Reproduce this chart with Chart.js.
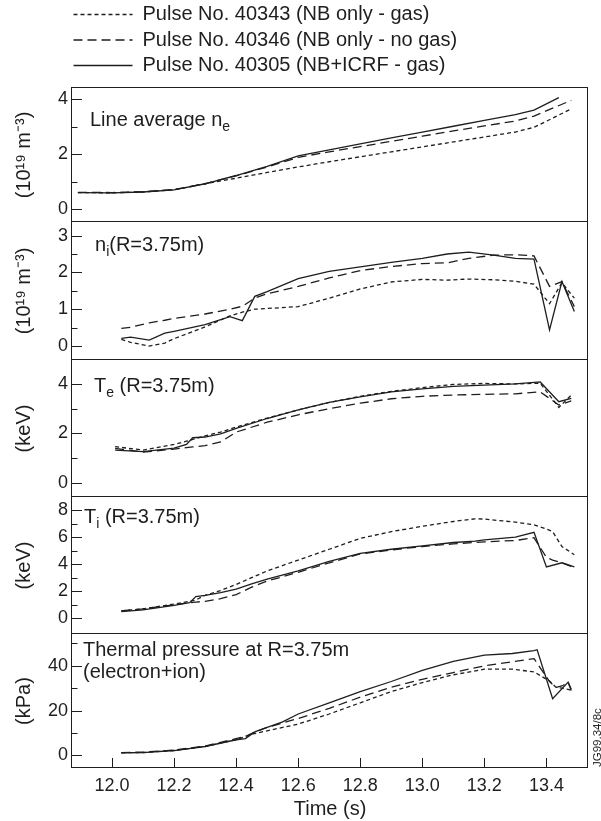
<!DOCTYPE html>
<html>
<head>
<meta charset="utf-8">
<script src="https://cdn.jsdelivr.net/npm/chart.js@4.4.1/dist/chart.umd.min.js"></script>
<style>
html,body{margin:0;padding:0;background:#fff;}
body{width:601px;height:821px;position:relative;overflow:hidden;font-family:"Liberation Sans",Arial,Helvetica,sans-serif;color:#1e1e1e;}
.box{position:absolute;left:0;width:601px;}
.box canvas{display:block;}
.lbl{position:absolute;font-size:20px;line-height:22px;white-space:nowrap;color:#1e1e1e;z-index:5;}
.lbl sub{font-size:14px;vertical-align:-5px;line-height:0;}
#jg{position:absolute;left:591px;top:767px;font-size:11.5px;line-height:13px;white-space:nowrap;transform:rotate(-90deg);transform-origin:left top;color:#1e1e1e;z-index:5;}
</style>
</head>
<body>
<div class="box" style="top:-1px;left:67.5px;width:533px;height:180px;z-index:0"><canvas id="cLegend" width="533" height="180"></canvas></div>
<div class="box" style="top:72px;height:166px;z-index:1"><canvas id="c1" width="601" height="166"></canvas></div>
<div class="box" style="top:206px;height:170px;z-index:1"><canvas id="c2" width="601" height="170"></canvas></div>
<div class="box" style="top:344px;height:169px;z-index:1"><canvas id="c3" width="601" height="169"></canvas></div>
<div class="box" style="top:481px;height:169px;z-index:1"><canvas id="c4" width="601" height="169"></canvas></div>
<div class="box" style="top:618px;height:203px;z-index:2"><canvas id="c5" width="601" height="203"></canvas></div>

<div class="lbl" style="left:90px;top:108px">Line average n<sub>e</sub></div>
<div class="lbl" style="left:95px;top:233px">n<sub>i</sub>(R=3.75m)</div>
<div class="lbl" style="left:94px;top:374px">T<sub>e</sub> (R=3.75m)</div>
<div class="lbl" style="left:84px;top:505px">T<sub>i</sub> (R=3.75m)</div>
<div class="lbl" style="left:83px;top:638px">Thermal pressure at R=3.75m<br>(electron+ion)</div>
<div id="jg">JG99.34/8c</div>

<script>
// ---------- data ----------
const seriesLabels = ['Pulse No. 40343 (NB only - gas)', 'Pulse No. 40346 (NB only - no gas)', 'Pulse No. 40305 (NB+ICRF - gas)'];
const xTickStep = 0.2;

// Line average n_e (10^19 m^-3)
const neTime  = [11.89, 12.0, 12.1, 12.2, 12.3, 12.4, 12.5, 12.6, 12.7, 12.8, 12.9, 13.0, 13.1, 13.2, 13.3, 13.36, 13.44, 13.48];
const ne40343 = [0.60, 0.59, 0.62, 0.70, 0.92, 1.12, 1.33, 1.53, 1.72, 1.90, 2.08, 2.26, 2.44, 2.62, 2.80, 2.97, null, 3.64];
const ne40346 = [0.61, 0.60, 0.63, 0.71, 0.92, 1.21, 1.53, 1.88, 2.08, 2.27, 2.46, 2.65, 2.84, 3.02, 3.20, 3.38, null, 3.95];
const ne40305 = [0.60, 0.59, 0.62, 0.70, 0.92, 1.22, 1.55, 1.93, 2.15, 2.37, 2.59, 2.80, 3.01, 3.22, 3.43, 3.60, 4.05, null];

// n_i at R=3.75m (10^19 m^-3)
const niTime  = [12.03, 12.06, 12.12, 12.17, 12.2, 12.3, 12.38, 12.42, 12.46, 12.5, 12.6, 12.7, 12.8, 12.9, 13.0, 13.08, 13.15, 13.23, 13.3, 13.36, 13.41, 13.45, 13.49];
const ni40343 = [0.18, 0.10, 0.00, 0.08, 0.20, 0.52, 0.82, 0.92, 1.00, 1.02, 1.07, 1.30, 1.55, 1.74, 1.81, 1.79, 1.82, 1.80, 1.76, 1.68, 1.15, 1.72, 1.30];
const ni40346 = [0.48, 0.51, 0.63, 0.70, 0.75, 0.87, 1.00, 1.08, 1.30, 1.42, 1.62, 1.85, 2.05, 2.16, 2.24, 2.26, 2.38, 2.47, 2.48, 2.45, 1.62, 1.75, 1.07];
const ni40305 = [0.21, 0.24, 0.16, 0.35, 0.40, 0.58, 0.80, 0.69, 1.35, 1.48, 1.83, 2.03, 2.15, 2.27, 2.38, 2.50, 2.55, 2.47, 2.38, 2.36, 0.44, 1.75, 0.94];

// T_e at R=3.75m (keV)
const teTime  = [12.01, 12.1, 12.2, 12.24, 12.26, 12.3, 12.35, 12.4, 12.5, 12.6, 12.7, 12.8, 12.9, 13.0, 13.1, 13.2, 13.3, 13.38, 13.44, 13.48];
const te40343 = [1.46, 1.32, 1.55, 1.68, 1.75, 1.90, 2.05, 2.25, 2.62, 2.95, 3.25, 3.50, 3.70, 3.85, 3.98, 4.02, 4.00, 4.03, 3.05, 3.55];
const te40346 = [1.39, 1.24, 1.36, 1.42, 1.45, 1.50, 1.65, 2.05, 2.45, 2.75, 3.00, 3.22, 3.40, 3.50, 3.55, 3.58, 3.60, 3.68, 3.15, 3.31];
const te40305 = [1.32, 1.26, 1.40, 1.55, 1.82, 1.85, 1.98, 2.20, 2.60, 2.95, 3.25, 3.48, 3.68, 3.80, 3.90, 3.95, 4.00, 4.08, 3.28, 3.42];

// T_i at R=3.75m (keV)
const tiTime  = [12.03, 12.1, 12.2, 12.25, 12.27, 12.3, 12.35, 12.4, 12.45, 12.5, 12.6, 12.7, 12.8, 12.9, 13.0, 13.1, 13.17, 13.2, 13.3, 13.36, 13.4, 13.42, 13.45, 13.49];
const ti40343 = [0.55, 0.70, 1.05, 1.25, 1.35, 1.70, 2.05, 2.50, 3.00, 3.50, 4.30, 5.10, 5.90, 6.40, 6.80, 7.15, 7.35, 7.33, 7.10, 6.90, 6.60, 6.40, 5.30, 4.70];
const ti40346 = [0.55, 0.70, 1.00, 1.15, 1.20, 1.25, 1.45, 1.75, 2.30, 2.75, 3.40, 4.10, 4.75, 5.05, 5.30, 5.50, 5.60, 5.65, 5.75, 5.95, 4.50, 4.30, 4.10, 3.75];
const ti40305 = [0.50, 0.62, 0.95, 1.15, 1.60, 1.70, 1.90, 2.15, 2.55, 2.90, 3.50, 4.20, 4.80, 5.10, 5.35, 5.60, 5.70, 5.80, 6.00, 6.35, 3.80, null, 4.10, 3.80];

// Thermal pressure at R=3.75m (kPa)
const pTime  = [12.03, 12.1, 12.2, 12.3, 12.4, 12.43, 12.46, 12.5, 12.55, 12.6, 12.7, 12.8, 12.9, 13.0, 13.1, 13.2, 13.29, 13.36, 13.37, 13.41, 13.42, 13.43, 13.45, 13.47, 13.48];
const p40343 = [1.2, 1.3, 2.2, 4.0, 7.0, 8.5, 9.8, 11.0, 12.5, 14.0, 18.5, 23.5, 28.5, 32.5, 36.0, 38.5, 38.5, 37.3, null, 33.2, null, 30.5, 30.0, 29.5, 29.0];
const p40346 = [1.3, 1.5, 2.4, 4.2, 7.5, 8.5, 10.5, 12.5, 14.5, 16.5, 21.0, 26.0, 30.5, 34.0, 37.0, 40.0, 41.8, 43.2, null, 33.0, null, 30.3, 31.0, 32.6, 29.0];
const p40305 = [1.2, 1.3, 2.2, 4.0, 7.0, 7.5, 10.5, 12.5, 15.0, 18.5, 23.5, 28.5, 33.0, 38.0, 42.0, 44.8, 45.5, 46.8, 47.2, null, 25.3, null, null, 32.7, 29.5];

// ---------- styling ----------
const FONT = '"Liberation Sans", Arial, Helvetica, sans-serif';
const INK = '#1e1e1e';
const seriesDash = [[4, 3], [9, 5], []];
const X_MIN = 11.871, X_MAX = 13.534;

Chart.defaults.font.family = FONT;
Chart.defaults.color = INK;

function pts(time, vals) {
  return time.map((t, i) => ({x: t, y: vals[i]})).filter(p => p.y !== null);
}
function datasets(time, arrs) {
  return arrs.map((a, i) => ({
    label: seriesLabels[i], data: pts(time, a),
    borderColor: INK, backgroundColor: INK, borderWidth: 1.3, borderDash: seriesDash[i],
    pointRadius: 0, tension: 0, spanGaps: true, fill: false
  }));
}

const frameTicks = {
  id: 'frameTicks',
  afterDatasetsDraw(chart, args, opts) {
    const {ctx, chartArea: a, scales} = chart;
    ctx.save();
    ctx.strokeStyle = INK; ctx.lineWidth = 1; ctx.setLineDash([]);
    ctx.strokeRect(a.left - 0.5, a.top - 0.5, a.right - a.left, a.bottom - a.top);
    const ys = scales.y;
    ys.ticks.forEach(t => {
      if (t.value < -1e-9) return;
      const major = t.label !== '' && t.label !== undefined;
      const py = Math.round(ys.getPixelForValue(t.value)) + 0.5;
      ctx.beginPath(); ctx.moveTo(a.left, py); ctx.lineTo(a.left + (major ? 10 : 5.5), py); ctx.stroke();
    });
    if (opts.xTicks) {
      const xs = scales.x;
      xs.ticks.forEach(t => {
        const px = Math.round(xs.getPixelForValue(t.value)) + 0.5;
        ctx.beginPath(); ctx.moveTo(px, a.bottom); ctx.lineTo(px, a.bottom - 10); ctx.stroke();
      });
    }
    ctx.restore();
  }
};

function makePanel(id, time, arrs, y, isBottom) {
  const labelEvery = y.labelStep;
  const xScale = {
    type: 'linear', min: X_MIN, max: X_MAX, display: isBottom,
    grid: {display: false, drawTicks: false}, border: {display: false},
    ticks: {stepSize: xTickStep, includeBounds: false, autoSkip: false, maxRotation: 0,
            callback: v => v.toFixed(1), font: {size: 18}, color: INK, padding: 7},
    title: {display: true, text: 'Time (s)', font: {size: 20}, color: INK, padding: {top: 0, bottom: 0}}
  };
  if (isBottom) xScale.afterFit = s => { s.height = 53; };
  return new Chart(document.getElementById(id), {
    type: 'line',
    data: {datasets: datasets(time, arrs)},
    plugins: [frameTicks],
    options: {
      responsive: false, animation: false, devicePixelRatio: 1,
      events: [],
      layout: {padding: {top: 16, bottom: isBottom ? 0 : 16, left: 0, right: 13}},
      plugins: {legend: {display: false}, tooltip: {enabled: false}, frameTicks: {xTicks: isBottom}},
      scales: {
        x: xScale,
        y: {
          type: 'linear', min: y.min, max: y.max,
          grid: {display: false, drawTicks: false}, border: {display: false},
          ticks: {stepSize: y.step, includeBounds: false, autoSkip: false, font: {size: 18}, color: INK, padding: 4,
                  callback: v => {
                    if (v < -1e-9) return '';
                    const r = v / labelEvery;
                    return Math.abs(r - Math.round(r)) < 1e-6 ? String(Math.round(v * 100) / 100) : '';
                  }},
          title: {display: true, text: y.title, font: {size: 20}, color: INK, padding: {top: 12, bottom: 0}},
          afterFit(s) { s.width = 72; }
        }
      }
    }
  });
}

makePanel('c1', neTime, [ne40343, ne40346, ne40305], {min: -0.47, max: 4.4, step: 1, labelStep: 2, title: '(10¹⁹ m⁻³)'}, false);
makePanel('c2', niTime, [ni40343, ni40346, ni40305], {min: -0.38, max: 3.37, step: 0.5, labelStep: 1, title: '(10¹⁹ m⁻³)'}, false);
makePanel('c3', teTime, [te40343, te40346, te40305], {min: -0.58, max: 4.97, step: 1, labelStep: 2, title: '(keV)'}, false);
makePanel('c4', tiTime, [ti40343, ti40346, ti40305], {min: -1.16, max: 8.96, step: 1, labelStep: 2, title: '(keV)'}, false);
makePanel('c5', pTime, [p40343, p40346, p40305], {min: -5.6, max: 54.2, step: 10, labelStep: 20, title: '(kPa)'}, true);

// legend (drawn by Chart.js legend plugin)
new Chart(document.getElementById('cLegend'), {
  type: 'line',
  data: {datasets: seriesLabels.map((l, i) => ({label: l, data: [], borderColor: INK, borderWidth: 1.3, borderDash: seriesDash[i], pointRadius: 0}))},
  options: {
    responsive: false, animation: false, devicePixelRatio: 1, events: [],
    layout: {padding: 0},
    scales: {x: {display: false}, y: {display: false}},
    plugins: {
      tooltip: {enabled: false},
      legend: {
        display: true, position: 'top', align: 'start',
        labels: {
          usePointStyle: true, pointStyle: 'line', pointStyleWidth: 59, padding: 5.5,
          color: INK, font: {size: 20, family: FONT},
          generateLabels(chart) {
            const items = Chart.defaults.plugins.legend.labels.generateLabels(chart);
            items.forEach((it, i) => { it.lineDash = seriesDash[i]; it.lineWidth = 1.3; it.strokeStyle = INK; });
            return items;
          }
        }
      }
    }
  }
});
</script>
</body>
</html>
